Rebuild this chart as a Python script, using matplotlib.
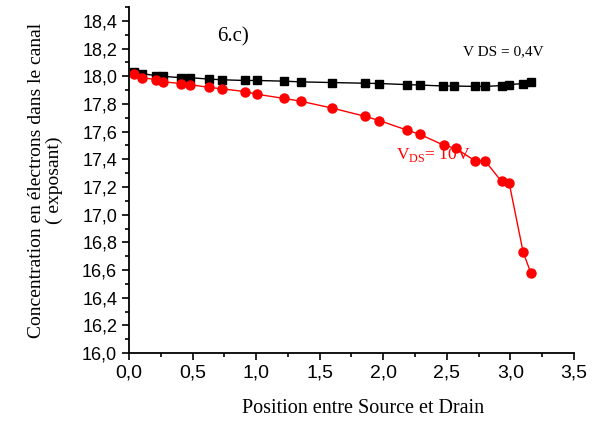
import numpy as np
import matplotlib
matplotlib.use("Agg")
import matplotlib.pyplot as plt
from matplotlib.ticker import MultipleLocator, FuncFormatter

# V DS = 0,4V (black squares)
x_low = [0.04, 0.10, 0.21, 0.27, 0.41, 0.48, 0.63, 0.73, 0.91, 1.01, 1.22, 1.35,
         1.60, 1.86, 1.97, 2.19, 2.29, 2.47, 2.56, 2.72, 2.80, 2.93, 2.99, 3.10, 3.16]
y_low = [18.03, 18.02, 18.005, 18.0, 17.99, 17.99, 17.98, 17.975, 17.97, 17.97, 17.965, 17.96,
         17.955, 17.95, 17.948, 17.94, 17.937, 17.93, 17.93, 17.927, 17.927, 17.933, 17.94, 17.948, 17.96]

# V DS = 10V (red circles)
x_high = [0.04, 0.10, 0.21, 0.27, 0.41, 0.48, 0.63, 0.73, 0.91, 1.01, 1.22, 1.35,
          1.60, 1.86, 1.97, 2.19, 2.29, 2.48, 2.57, 2.72, 2.80, 2.93, 2.99, 3.10, 3.16]
y_high = [18.016, 17.99, 17.977, 17.96, 17.948, 17.94, 17.92, 17.91, 17.89, 17.87, 17.84, 17.82,
          17.77, 17.71, 17.68, 17.61, 17.58, 17.50, 17.48, 17.39, 17.39, 17.24, 17.23, 16.73, 16.58]

fig = plt.figure(figsize=(6.04, 4.21), dpi=100)
ax = fig.add_axes([0.2136, 0.1615, 0.7367, 0.8215])

ax.plot(x_low, y_low, color='black', marker='s', markersize=6, linewidth=1)
ax.plot(x_high, y_high, color='red', marker='o', markersize=6.5, linewidth=1)

ax.set_xlim(0, 3.5)
ax.set_ylim(16.0, 18.5)
ax.xaxis.set_major_locator(MultipleLocator(0.5))
ax.xaxis.set_minor_locator(MultipleLocator(0.25))
ax.set_yticks(np.arange(16.0, 18.41, 0.2))
ax.yaxis.set_minor_locator(MultipleLocator(0.1))

comma = FuncFormatter(lambda v, p: f"{v:.1f}".replace('.', ','))
ax.xaxis.set_major_formatter(comma)
ax.yaxis.set_major_formatter(comma)

for s in ['top', 'right']:
    ax.spines[s].set_visible(False)
ax.spines['left'].set_linewidth(1.3)
ax.spines['bottom'].set_linewidth(1.3)
ax.tick_params(which='major', direction='out', length=5, width=1.2)
ax.tick_params(which='minor', direction='out', length=3, width=1.2)
for lab in ax.get_xticklabels():
    lab.set_fontfamily('Liberation Sans')
    lab.set_fontsize(14)
for lab in ax.get_yticklabels():
    lab.set_fontfamily('Liberation Sans')
    lab.set_fontsize(13)

ax.set_xlabel('Position entre Source et Drain', fontfamily='Liberation Serif', fontsize=14.5)
ax.xaxis.set_label_coords(0.526, -0.134)
ax.set_ylabel('Concentration en électrons dans le canal\n( exposant)', fontfamily='Liberation Serif',
              fontsize=14, labelpad=14, linespacing=1.05)

ax.text(0.69, 18.25, '6.c)', fontfamily='Liberation Serif', fontsize=15)
ax.text(2.63, 18.15, 'V DS = 0,4V', fontfamily='Liberation Serif', fontsize=11)
ax.text(2.10, 17.40, r'V$_{\mathregular{DS}}$= 10V', fontfamily='Liberation Serif', fontsize=12.5, color='red')

fig.savefig('out.png', dpi=100)
